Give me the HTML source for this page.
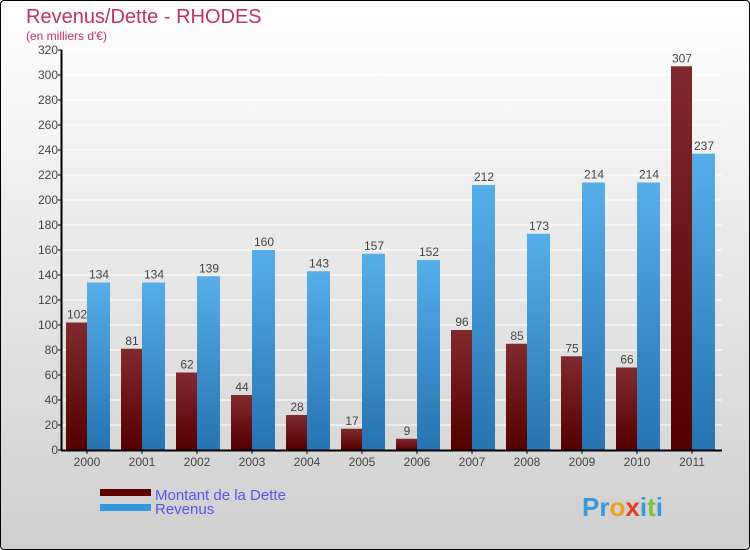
<!DOCTYPE html>
<html><head><meta charset="utf-8"><style>
html,body{margin:0;padding:0}
body{width:750px;height:550px;overflow:hidden;font-family:"Liberation Sans",sans-serif}
#frame{position:absolute;left:0;top:0;width:748px;height:548px;border:1px solid #000;border-radius:4px;background:linear-gradient(#ffffff,#cfcfcf);overflow:hidden}
</style></head><body>
<div id="frame">
<svg id="chart" width="750" height="550" style="position:absolute;left:-1px;top:-1px">
<defs>
<linearGradient id="gd" x1="0" y1="0" x2="0" y2="1"><stop offset="0" stop-color="#802a2e"/><stop offset="1" stop-color="#530000"/></linearGradient>
<linearGradient id="gr" x1="0" y1="0" x2="0" y2="1"><stop offset="0" stop-color="#56aee8"/><stop offset="1" stop-color="#2673b0"/></linearGradient>
</defs>
<text x="26" y="23" font-size="20" fill="#c0306a">Revenus/Dette - RHODES</text>
<text x="26" y="40" font-size="12" fill="#c0306a">(en milliers d'€)</text>
<g id="grid"></g><g id="bars"></g><g id="axes"></g>
<rect x="100" y="489" width="51" height="7" fill="#600000"/>
<rect x="100" y="504" width="51" height="7" fill="#3399dd"/>
<text x="155" y="500" font-size="15" fill="#5555ee">Montant de la Dette</text>
<text x="155" y="514" font-size="15" fill="#5555ee">Revenus</text>
<text x="582" y="516" font-size="26" font-weight="bold"><tspan fill="#3a9ad9">Pr</tspan><tspan fill="#f0a020">o</tspan><tspan fill="#e04020">x</tspan><tspan fill="#3a9ad9">i</tspan><tspan fill="#80c040">t</tspan><tspan fill="#3a9ad9">i</tspan></text>
</svg></div>
<script>
const years=["2000","2001","2002","2003","2004","2005","2006","2007","2008","2009","2010","2011"];
const dette=[102,81,62,44,28,17,9,96,85,75,66,307];
const revenus=[134,134,139,160,143,157,152,212,173,214,214,237];
const yTicks=[0,20,40,60,80,100,120,140,160,180,200,220,240,260,280,300,320];
const NS="http://www.w3.org/2000/svg";
const x0=62,y0=450,step=55,yMax=320,plotH=400;
const y=v=>y0-v/yMax*plotH;
function mk(t,a,p){const e=document.createElementNS(NS,t);for(const k in a)e.setAttribute(k,a[k]);p.appendChild(e);return e;}
const grid=document.getElementById('grid'),bars=document.getElementById('bars'),axes=document.getElementById('axes');
yTicks.forEach(v=>{
 const l=mk('line',{x1:x0,x2:722,y1:y(v),y2:y(v),stroke:'#ffffff','stroke-width':1},grid);
 
 
 const t=mk('line',{x1:x0-4,x2:x0,y1:y(v),y2:y(v),stroke:'#000'},axes);
 
 
 const tx=mk('text',{x:x0-4,y:y(v)+4,'text-anchor':'end','font-size':12,fill:'#444'},axes);
 tx.textContent=v;
 
 
});
years.forEach((yr,i)=>{
 const gx=x0+step*i;
 const b1=mk('rect',{x:gx+4,y:y(dette[i]),width:21,height:y0-y(dette[i]),fill:'url(#gd)'},bars);
 
 
 const b2=mk('rect',{x:gx+25,y:y(revenus[i]),width:23,height:y0-y(revenus[i]),fill:'url(#gr)'},bars);
 
 
 const l1=mk('text',{x:gx+15,y:y(dette[i])-4,'text-anchor':'middle','font-size':12,fill:'#444'},bars);
 l1.textContent=dette[i];
 
 
 const l2=mk('text',{x:gx+37,y:y(revenus[i])-4,'text-anchor':'middle','font-size':12,fill:'#444'},bars);
 l2.textContent=revenus[i];
 
 
 const xl=mk('text',{x:gx+25,y:466,'text-anchor':'middle','font-size':12,fill:'#444'},axes);
 xl.textContent=yr;
 
 
 const xt=mk('line',{x1:gx+25,x2:gx+25,y1:y0,y2:y0+4,stroke:'#000'},axes);
 
 
});
const ya=mk('line',{x1:x0-0.5,x2:x0-0.5,y1:50,y2:y0,stroke:'#000','stroke-width':2},axes);


const xa=mk('line',{x1:x0-1,x2:722,y1:y0+0.5,y2:y0+0.5,stroke:'#000','stroke-width':2},axes);


</script>
</body></html>
